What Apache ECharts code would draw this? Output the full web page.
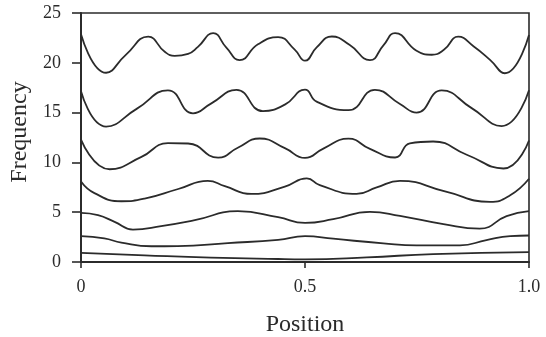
<!DOCTYPE html>
<html>
<head>
<meta charset="utf-8">
<script src="https://cdn.jsdelivr.net/npm/echarts@6/dist/echarts.min.js"></script>
<style>
  html, body { margin: 0; padding: 0; background: #fff; }
  #chart { width: 546px; height: 337px; }
</style>
</head>
<body>
<div id="chart"></div>
<script>
// mode curves, [position, frequency]
const mode1 = [[0, 0.92], [0.142, 0.67], [0.29, 0.44], [0.44, 0.3], [0.5, 0.27], [0.638, 0.46], [0.786, 0.8], [1, 1.0]];
const mode2 = [[0, 2.59], [0.052, 2.37], [0.09, 1.95], [0.157, 1.58], [0.216, 1.6], [0.328, 1.9], [0.44, 2.23], [0.5, 2.6],
  [0.563, 2.34], [0.675, 1.87], [0.749, 1.67], [0.846, 1.67], [0.905, 2.2], [0.958, 2.6], [1, 2.66]];
const mode3 = [[0, 4.93], [0.038, 4.7], [0.075, 4.03], [0.116, 3.26], [0.179, 3.6], [0.254, 4.2], [0.35, 5.1], [0.44, 4.5],
  [0.5, 3.93], [0.563, 4.3], [0.645, 5.04], [0.712, 4.63], [0.809, 3.8], [0.89, 3.35], [0.95, 4.6], [1, 5.1]];
const mode4 = [[0, 8.09], [0.03, 6.92], [0.09, 6.1], [0.142, 6.36], [0.217, 7.33], [0.283, 8.15], [0.321, 7.62], [0.38, 6.83],
  [0.455, 7.57], [0.504, 8.39], [0.533, 7.71], [0.615, 6.83], [0.66, 7.49], [0.712, 8.15], [0.8125, 7.09], [0.913, 6.04],
  [0.958, 6.7], [1, 8.36]];
const mode5 = [[0, 12.29], [0.064, 9.31], [0.135, 10.55], [0.194, 11.93], [0.239, 11.9], [0.306, 10.48], [0.35, 11.47],
  [0.399, 12.4], [0.455, 11.43], [0.5, 10.45], [0.541, 11.39], [0.597, 12.38], [0.645, 11.35], [0.701, 10.49],
  [0.734, 11.92], [0.786, 12.1], [0.861, 10.77], [0.943, 9.39], [1, 12.2]];
const mode6 = [[0, 17.15], [0.056, 13.6], [0.125, 15.4], [0.194, 17.24], [0.25, 14.93], [0.291, 15.93],
  [0.347, 17.28], [0.406, 15.15], [0.455, 15.8], [0.5, 17.3], [0.526, 16.1], [0.597, 15.24], [0.656, 17.29],
  [0.712, 15.86], [0.749, 15.0], [0.805, 17.23], [0.872, 15.45], [0.939, 13.65], [1, 17.25]];
const mode7 = [[0, 22.86], [0.056, 19.0], [0.1, 20.8], [0.15, 22.62], [0.187, 21.1], [0.209, 20.7],
  [0.239, 20.9], [0.261, 21.6], [0.295, 22.98], [0.324, 21.55], [0.354, 20.27], [0.395, 21.86], [0.44, 22.58],
  [0.477, 21.33], [0.5, 20.21], [0.526, 21.55], [0.56, 22.64], [0.6, 21.78], [0.645, 20.26], [0.675, 21.75],
  [0.701, 22.98], [0.749, 21.2], [0.783, 20.81], [0.81, 21.3], [0.842, 22.62], [0.876, 21.67], [0.913, 20.3],
  [0.946, 18.95], [1, 22.79]];

const modes = [mode1, mode2, mode3, mode4, mode5, mode6, mode7];

const ink = '#2b2b2b';
const serif = 'Liberation Serif';

const chart = echarts.init(document.getElementById('chart'));

chart.setOption({
  animation: false,
  backgroundColor: '#fff',
  grid: {
    left: 81,
    right: 17,
    top: 13,
    bottom: 75,
    outerBoundsMode: 'none',
    show: true,
    borderColor: ink,
    borderWidth: 1.6
  },
  xAxis: {
    type: 'value',
    min: 0,
    max: 1,
    interval: 0.5,
    name: 'Position',
    nameLocation: 'middle',
    nameGap: 51,
    nameTextStyle: { fontFamily: serif, fontSize: 24, color: ink },
    axisLine: { lineStyle: { color: ink, width: 2 } },
    axisTick: { length: 6, lineStyle: { color: ink, width: 1.6 } },
    axisLabel: {
      fontFamily: serif,
      fontSize: 18,
      color: ink,
      margin: 16,
      formatter: v => (v === 0 ? '0' : v.toFixed(1))
    },
    splitLine: { show: false }
  },
  yAxis: {
    type: 'value',
    min: 0,
    max: 25,
    interval: 5,
    name: 'Frequency',
    nameLocation: 'middle',
    nameRotate: 90,
    nameGap: 43,
    nameTextStyle: { fontFamily: serif, fontSize: 24, color: ink, padding: [0, 0, 0, 11] },
    axisLine: { lineStyle: { color: ink, width: 2 } },
    axisTick: { length: 9, lineStyle: { color: ink, width: 1.6 } },
    axisLabel: { fontFamily: serif, fontSize: 18, color: ink, margin: 20 },
    splitLine: { show: false }
  },
  series: modes.map(m => ({
    type: 'line',
    data: m,
    smooth: 0.5,
    showSymbol: false,
    symbol: 'none',
    lineStyle: { color: ink, width: 1.8 }
  }))
});
</script>
</body>
</html>
